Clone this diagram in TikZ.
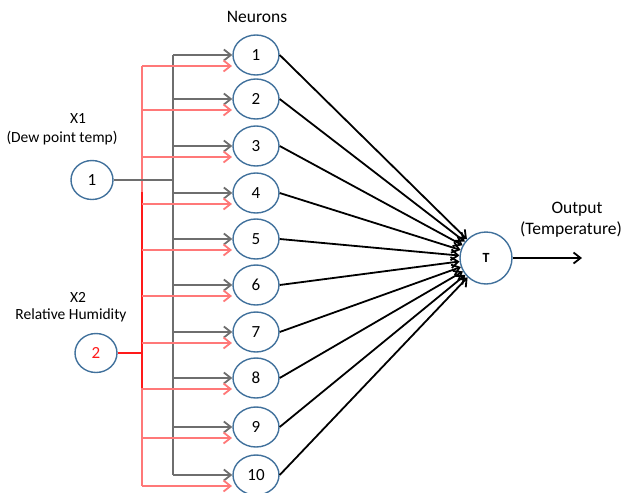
\documentclass[tikz,border=0pt]{standalone}
\usepackage{fontspec}
\setmainfont{Carlito}
\usetikzlibrary{arrows.meta,shapes.geometric}
\definecolor{nodeblue}{HTML}{41719C}
\definecolor{linegray}{HTML}{6E6E6E}
\definecolor{pinkred}{HTML}{FF7878}
\definecolor{brightred}{HTML}{FF1A1A}
\begin{document}
\begin{tikzpicture}[x=1pt,y=-1pt,
  neuron/.style={draw=nodeblue,line width=1.4pt,ellipse,minimum width=46pt,minimum height=40pt,inner sep=0pt,font=\fontsize{17}{20}\selectfont},
  inputnode/.style={draw=nodeblue,line width=1.4pt,ellipse,minimum width=42pt,minimum height=39pt,inner sep=0pt,font=\fontsize{17}{20}\selectfont},
  outnode/.style={draw=nodeblue,line width=1.4pt,circle,minimum size=52pt,inner sep=0pt,font=\bfseries\fontsize{14}{16}\selectfont},
  lbl/.style={font=\fontsize{15.5}{18}\selectfont,inner sep=0pt},
  biglbl/.style={font=\fontsize{17.5}{20}\selectfont,inner sep=0pt},
  tip/.style={-{Straight Barb[length=7pt,width=11pt]}},
  grayline/.style={draw=linegray,line width=1.8pt},
  pinkline/.style={draw=pinkred,line width=1.8pt},
  blackline/.style={draw=black,line width=1.8pt}]
\useasboundingbox (0,0) rectangle (622,493);
% nodes
\foreach \i/\y in {1/55,2/99,3/146,4/193,5/239,6/285,7/332,8/378,9/427,10/475}{
  \node[neuron] (n\i) at (256,\y) {\i};
  \coordinate (g\i) at (173,\y);
  \coordinate (r\i) at (142,\y+11);
  \coordinate (re\i) at (232,\y+11);
}
\node[inputnode] (x1) at (92,180) {1};
\node[inputnode] (x2) at (96,353) {\textcolor{brightred}{2}};
\node[outnode] (T) at (486,258) {T};
\coordinate (out) at (582,258);
\coordinate (gj) at (173,180);
\coordinate (rj) at (142,353);
\coordinate (rtop) at (142,192);
\coordinate (rbot) at (142,388);
% labels
\node[biglbl] (neurons) at (257,17) {Neurons};
\node[lbl] (lx1) at (78,119) {X1};
\node[lbl] (lx1b) at (62,138) {(Dew point temp)};
\node[lbl] (lx2) at (78,297) {X2};
\node[lbl] (lx2b) at (71,315) {Relative Humidity};
\node[biglbl] (lo) at (577,209) {Output};
\node[biglbl] (lob) at (571,230) {(Temperature)};
% gray tree
\draw[grayline] (g1) -- (g10);
\foreach \i in {1,...,10}{\draw[grayline,tip] (g\i) -- (n\i.west);}
% red tree
\draw[pinkline] (r1) -- (r10);
\draw[draw=brightred,line width=1.8pt] (rtop) -- (rbot);
\foreach \i in {1,...,10}{\draw[pinkline,tip] (r\i) -- (re\i);}
\draw[draw=brightred,line width=1.8pt] (x2) -- (rj);
\draw[grayline] (x1) -- (gj);
% to output
\foreach \i in {1,...,10}{\draw[blackline,tip] (n\i.east) -- (T);}
\draw[blackline,tip] (T) -- (out);
\end{tikzpicture}
\end{document}
